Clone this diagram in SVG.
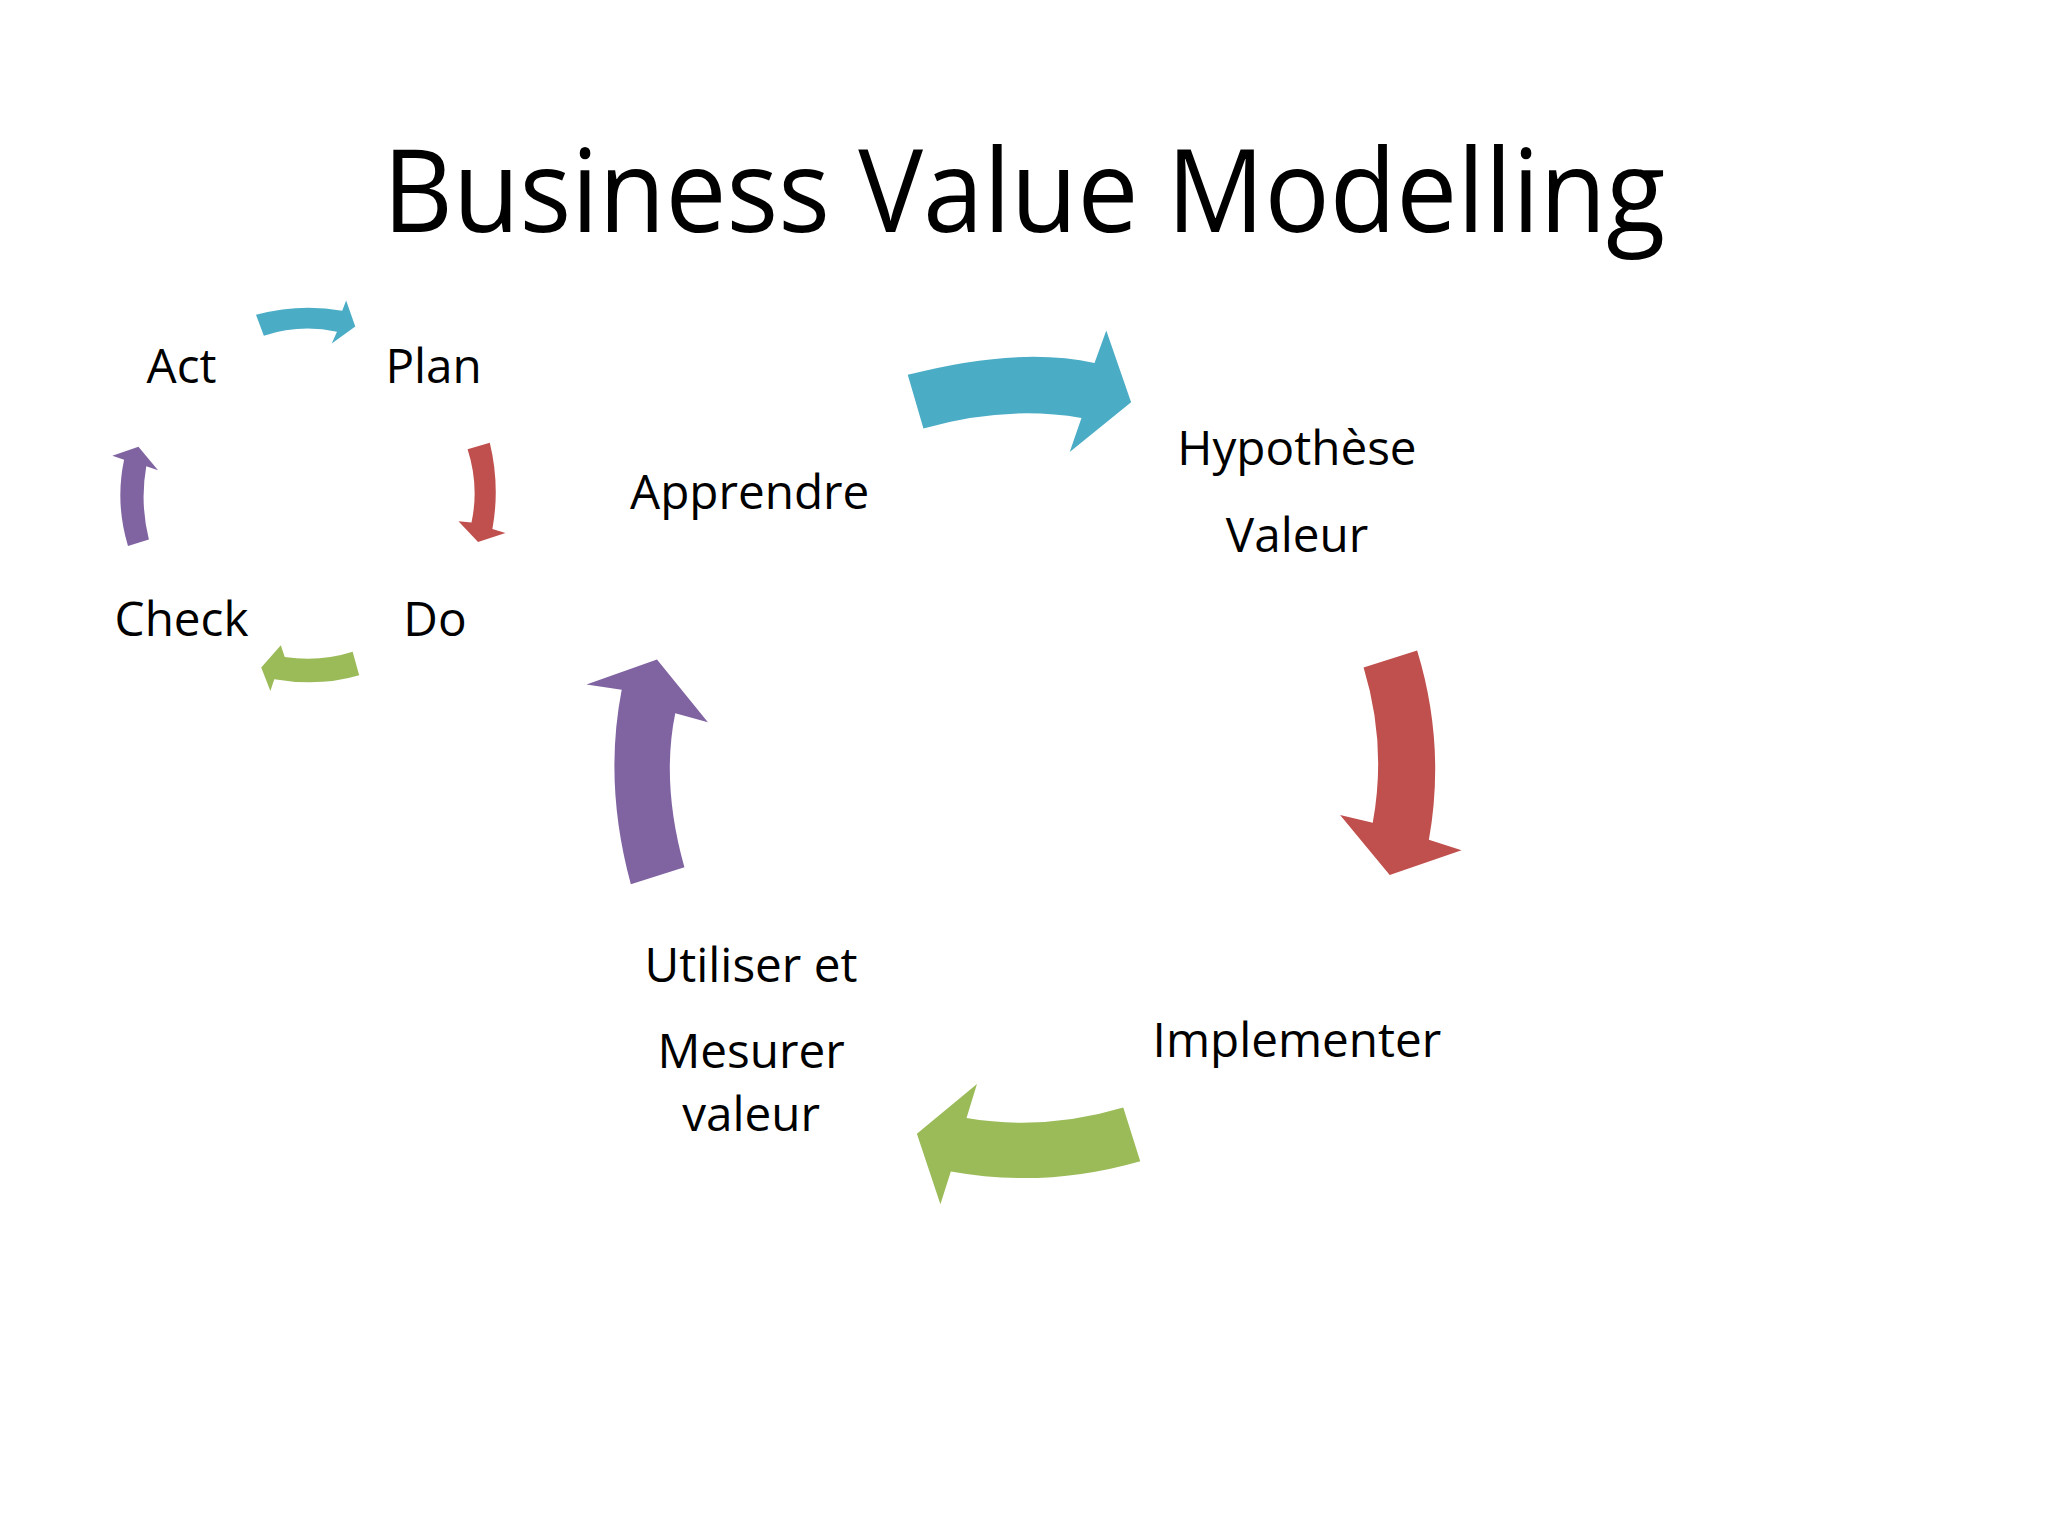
<svg xmlns="http://www.w3.org/2000/svg" width="2048" height="1536" viewBox="0 0 2048 1536">
<style>
text{font-family:"Open Sans","Liberation Sans",sans-serif;fill:#000;text-anchor:middle}
.l{font-size:36.5px}
.t{font-size:88px}
.b{fill:#4BACC6}.r{fill:#C0504D}.g{fill:#9BBB59}.p{fill:#8064A2}
</style>
<rect width="2048" height="1536" fill="#fff"/>
<g transform="scale(1.30612)">
<text class="t" x="784" y="178" textLength="982" lengthAdjust="spacingAndGlyphs">Business Value Modelling</text>
<g id="connectors">
<path class="b" d="M695,287 Q780,265 838,278 L847,253 L866,308 L819,346 L828,320 Q770,310 707,328 Z"/>
<path class="r" d="M1044,511 Q1062,570 1051,630 L1026,624 L1064,670 L1119,651 L1094,643 Q1107,570 1085,498 Z"/>
<path class="g" d="M860,848 Q800,866 740,856 L748,830 L702,868 L720,922 L728,897 Q800,910 873,889 Z"/>
<path class="p" d="M483,677 Q462,600 476,528 L449,524 L503,505 L542,553 L517,546 Q506,600 524,664 Z"/>
<path class="b" d="M196,241 Q230,232 262,238 L265,230 L272,250 L254,263 L258,254 Q230,248 202,257 Z"/>
<path class="r" d="M358,344 Q367,372 361,400 L351,399 L366,415 L387,408 L377,405 Q383,372 375,339 Z"/>
<path class="g" d="M270,499 Q245,507 218,503 L215,494 L200,511 L207,529 L210,520 Q245,526 275,517 Z"/>
<path class="p" d="M98,418 Q88,385 95,352 L86,349 L106,342 L121,360 L112,357 Q107,385 114,413 Z"/>
</g>
<g id="act"><text class="l" x="139" y="293">Act</text></g>
<g id="plan"><text class="l" x="332" y="293">Plan</text></g>
<g id="check"><text class="l" x="139" y="487">Check</text></g>
<g id="do"><text class="l" x="333" y="487">Do</text></g>
<g id="apprendre"><text class="l" x="574" y="390">Apprendre</text></g>
<g id="hypothese"><text class="l" x="993" y="356">Hypothèse</text><text class="l" x="993" y="423">Valeur</text></g>
<g id="implementer"><text class="l" x="993" y="809">Implementer</text></g>
<g id="utiliser"><text class="l" x="575" y="752">Utiliser et</text><text class="l" x="575" y="818">Mesurer</text><text class="l" x="575" y="866">valeur</text></g>
</g>
</svg>
